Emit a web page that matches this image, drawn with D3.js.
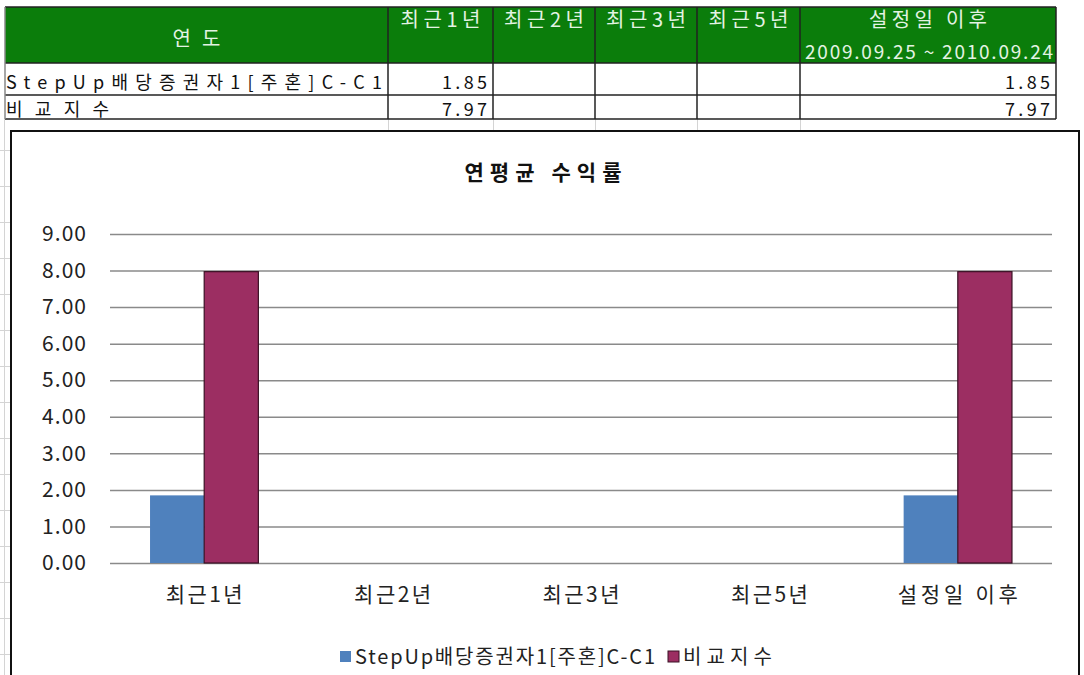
<!DOCTYPE html>
<html>
<head>
<meta charset="utf-8">
<script src="https://cdn.jsdelivr.net/npm/d3@7"></script>
<style>
  body { margin: 0; background: #fff; }
  text { font-family: "Noto Sans CJK KR", "Noto Sans", sans-serif; }
</style>
</head>
<body>
<svg id="chart"></svg>
<script>
const width = 1084
const height = 675

// data
const categories = ['최근1년', '최근2년', '최근3년', '최근5년', '설정일 이후']
const seriesNames = ['StepUp배당증권자1[주혼]C-C1', '비교지수']
const fundValues = [1.85, null, null, null, 1.85]
const indexValues = [7.97, null, null, null, 7.97]
const yTicks = [0, 1, 2, 3, 4, 5, 6, 7, 8, 9]
const headerLabel = '연도'
const periodLabel = '2009.09.25 ~ 2010.09.24'
const chartTitle = '연평균 수익률'

const colors = ['#4f81bd', '#9c2e62']
const seriesValues = [fundValues, indexValues]

const svg = d3.select('#chart').attr('width', width).attr('height', height)

// the original is rendered in a wide bitmap font, so stretch text spacing to the width seen there
function spread(sel, w) {
  sel.each(function () {
    const nat = this.getComputedTextLength()
    if (w > nat) d3.select(this).attr('textLength', w).attr('lengthAdjust', 'spacing')
  })
  return sel
}

// ---------- table ----------
const colEdges = [5, 388, 493, 595, 697, 800, 1056]
const headTop = 7, headBottom = 63
const rowEdges = [63, 95, 119]

// faint sheet gridlines
const faint = svg.append('g').attr('stroke', '#d4d4d4').attr('stroke-width', 1)
faint.append('line').attr('x1', 4.5).attr('x2', 4.5).attr('y1', 119).attr('y2', height)
colEdges.slice(1, 6).forEach(x => {
  faint.append('line').attr('x1', x + 0.5).attr('x2', x + 0.5).attr('y1', 119).attr('y2', 131)
})
d3.range(150, height, 36).forEach(y => {
  faint.append('line').attr('x1', 0).attr('x2', 10).attr('y1', y + 0.5).attr('y2', y + 0.5)
})

svg.append('rect')
  .attr('x', colEdges[0]).attr('y', headTop)
  .attr('width', colEdges[6] - colEdges[0]).attr('height', headBottom - headTop)
  .attr('fill', '#0b7d0b')

const tbl = svg.append('g')
const headColor = '#e3f3e3'
spread(tbl.append('text')
  .attr('x', (colEdges[0] + colEdges[1]) / 2).attr('y', 46)
  .attr('text-anchor', 'middle').attr('fill', headColor).attr('font-size', 20)
  .text(headerLabel), 48)
categories.forEach((c, i) => {
  spread(tbl.append('text')
    .attr('x', (colEdges[i + 1] + colEdges[i + 2]) / 2).attr('y', 27)
    .attr('text-anchor', 'middle').attr('fill', headColor).attr('font-size', 20)
    .text(c), i === 4 ? 118 : 80)
})
spread(tbl.append('text')
  .attr('x', (colEdges[5] + colEdges[6]) / 2 + 1).attr('y', 59)
  .attr('text-anchor', 'middle').attr('fill', headColor).attr('font-size', 19)
  .text(periodLabel), 248)

// body rows
const rowBase = [89, 116]
seriesNames.forEach((name, r) => {
  spread(tbl.append('text')
    .attr('x', 6).attr('y', rowBase[r])
    .attr('fill', '#111').attr('font-size', 18)
    .text(name), r === 0 ? 376 : 103)
  seriesValues[r].forEach((v, i) => {
    if (v == null) return
    spread(tbl.append('text')
      .attr('x', colEdges[i + 2] - 6).attr('y', rowBase[r])
      .attr('text-anchor', 'end').attr('fill', '#111').attr('font-size', 18)
      .text(v.toFixed(2)), 45)
  })
})

// table borders
const bord = svg.append('g').attr('stroke', '#222').attr('stroke-width', 1.5)
;[headTop, ...rowEdges].forEach(y => {
  bord.append('line').attr('x1', colEdges[0]).attr('x2', colEdges[6]).attr('y1', y).attr('y2', y)
})
colEdges.forEach((x, i) => {
  bord.append('line').attr('x1', x).attr('x2', x).attr('y1', headTop).attr('y2', rowEdges[2])
    .attr('stroke', i === 0 ? '#888' : '#222')
})

// ---------- chart ----------
svg.append('rect')
  .attr('x', 11).attr('y', 131)
  .attr('width', 1068).attr('height', 560)
  .attr('fill', '#fff').attr('stroke', '#111').attr('stroke-width', 2)

spread(svg.append('text')
  .attr('x', 543).attr('y', 180)
  .attr('text-anchor', 'middle').attr('font-size', 21).attr('font-weight', 'bold')
  .attr('fill', '#111')
  .text(chartTitle), 157)

const x0 = d3.scaleBand().domain(categories).range([110, 1052])
const groupW = x0.bandwidth() * 0.575
const x1 = d3.scaleBand().domain(seriesNames).range([0, groupW])
const y = d3.scaleLinear().domain([0, 9]).range([563, 234])

// gridlines + y labels
const yAxis = d3.axisLeft(y).tickValues(yTicks).tickFormat(d3.format('.2f'))
  .tickSize(-(1052 - 110)).tickPadding(24)
const gy = svg.append('g').attr('transform', 'translate(110,0)').call(yAxis)
gy.select('.domain').remove()
gy.selectAll('.tick line').attr('stroke', '#8a8a8a').attr('stroke-width', 1.5)
gy.selectAll('.tick text').attr('font-size', 21).attr('fill', '#222')
  .attr('font-family', '"Noto Sans CJK KR", sans-serif')
spread(gy.selectAll('.tick text'), 44)

// bars
const data = []
categories.forEach((c, i) => {
  seriesNames.forEach((s, j) => {
    if (seriesValues[j][i] != null) data.push({ cat: c, series: s, value: seriesValues[j][i], j })
  })
})
svg.append('g').selectAll('rect')
  .data(data)
  .enter().append('rect')
  .attr('x', d => x0(d.cat) + (x0.bandwidth() - groupW) / 2 + x1(d.series))
  .attr('y', d => y(d.value))
  .attr('width', x1.bandwidth())
  .attr('height', d => y(0) - y(d.value))
  .attr('fill', d => colors[d.j])
  .attr('stroke', d => d.j === 1 ? '#3a1024' : 'none')
  .attr('stroke-width', 1.2)

// x labels
const xAxis = d3.axisBottom(x0).tickSize(0).tickPadding(24)
const gx = svg.append('g').attr('transform', `translate(0,${y(0)})`).call(xAxis)
gx.select('.domain').remove()
gx.selectAll('.tick text').attr('font-size', 21).attr('fill', '#222')
  .attr('font-family', '"Noto Sans CJK KR", sans-serif')
gx.selectAll('.tick text').each(function (d) {
  spread(d3.select(this), d === '설정일 이후' ? 120 : 77)
})

// legend
const legend = svg.append('g')
const legendW = [300, 89]
let lx = 340
seriesNames.forEach((s, j) => {
  legend.append('rect').attr('x', lx).attr('y', 651).attr('width', 11).attr('height', 11)
    .attr('fill', colors[j]).attr('stroke', j === 1 ? '#3a1024' : 'none')
  spread(legend.append('text').attr('x', lx + 15).attr('y', 664)
    .attr('font-size', 20).attr('fill', '#222').text(s), legendW[j])
  lx += 15 + legendW[j] + 13
})
</script>
</body>
</html>
